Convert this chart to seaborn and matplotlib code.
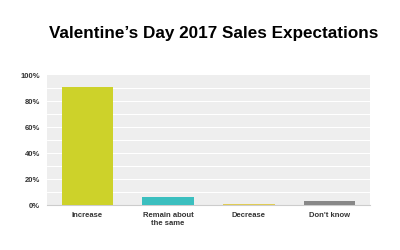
import matplotlib
matplotlib.use("Agg")
import matplotlib.pyplot as plt
import seaborn as sns
import pandas as pd

categories = ["Increase", "Remain about\nthe same", "Decrease", "Don't know"]
values = [91, 6, 0.6, 3]
colors = ["#cdd22a", "#3bbfbf", "#e0cc55", "#888888"]
yticks = [0, 20, 40, 60, 80, 100]
ytick_labels = ["0%", "20%", "40%", "60%", "80%", "100%"]

sns.set_style("white")
plt.rcParams['font.family'] = ['Liberation Sans', 'DejaVu Sans']

df = pd.DataFrame({"cat": categories, "val": values})
fig = plt.figure(figsize=(4, 2.5), dpi=100)
ax = fig.add_axes([0.1175, 0.18, 0.8075, 0.52])
sns.barplot(data=df, x="cat", y="val", hue="cat", palette=colors, legend=False,
            width=0.64, saturation=1, linewidth=0, ax=ax, zorder=3)
ax.set_facecolor("#eeeeee")
ax.set_ylim(0, 100)
ax.set_xlim(-0.5, 3.5)
for y in range(10, 100, 10):
    ax.axhline(y, color="white", lw=0.8, zorder=1)
ax.set_yticks(yticks)
ax.set_yticklabels(ytick_labels)
ax.tick_params(axis="both", length=0, labelsize=5.5, labelcolor="#333333", pad=5)
for lbl in ax.get_xticklabels() + ax.get_yticklabels():
    lbl.set_fontweight("bold")
ax.set_xlabel("")
ax.set_ylabel("")
for s in ["top", "right", "left"]:
    ax.spines[s].set_visible(False)
ax.spines["bottom"].set_color("#cccccc")
ax.spines["bottom"].set_linewidth(0.8)
fig.text(0.535, 0.866, "Valentine\u2019s Day 2017 Sales Expectations", ha="center", va="center",
         fontsize=12.3, fontweight="bold", color="black")
fig.savefig("out.png", dpi=100, facecolor="white")
